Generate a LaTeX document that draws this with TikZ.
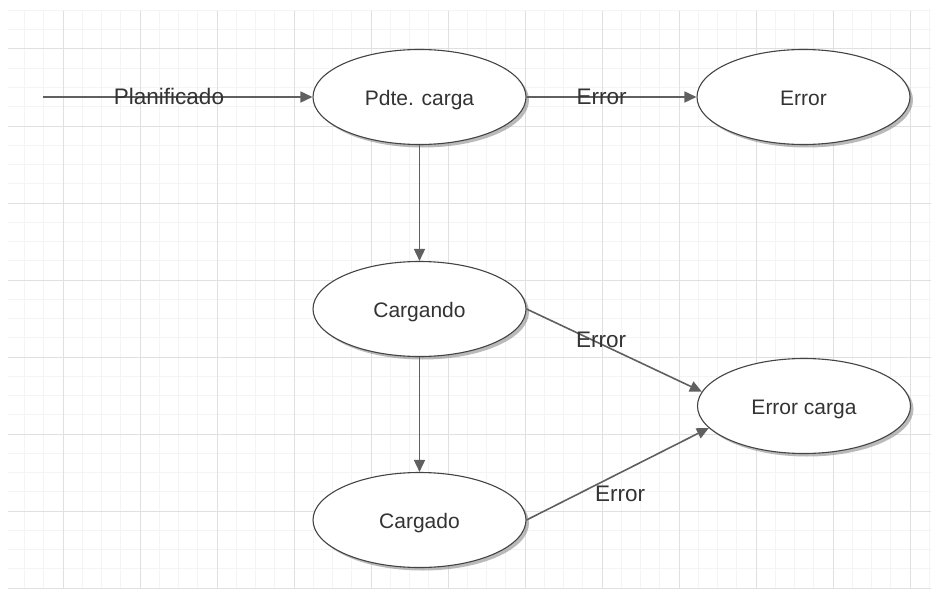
\documentclass[tikz,border=0pt]{standalone}
\usepackage{fontspec}
\setmainfont{Liberation Sans}
\usetikzlibrary{arrows.meta,shapes.geometric,shadows}
\definecolor{gridminor}{HTML}{F4F4F4}
\definecolor{gridmajor}{HTML}{E0E0E0}
\definecolor{edgegray}{HTML}{606060}
\definecolor{textgray}{HTML}{333333}
\definecolor{shapeline}{HTML}{444444}

\begin{document}
\begin{tikzpicture}[x=1pt,y=-1pt,
  state/.style={ellipse, draw=shapeline, line width=1.1pt, fill=white,
    minimum width=213pt, minimum height=95pt, inner sep=0pt,
    text=textgray, font=\fontsize{21}{24}\selectfont,
    text height=17pt, text depth=0pt,
    drop shadow={shadow xshift=3pt, shadow yshift=-3pt, fill=black!45, opacity=0.6}},
  trans/.style={draw=edgegray, line width=1.6pt, -{Triangle[length=12pt,width=11pt]}},
  tlabel/.style={text=textgray, font=\fontsize{22.5}{26}\selectfont, inner sep=0pt, anchor=base}
]
\useasboundingbox (0,0) rectangle (936,591);
\fill[white] (0,0) rectangle (936,591);

% background grid: minor lines every 19.25, major every 77
\begin{scope}
  \clip (8,11) rectangle (931,589);
  \foreach \i in {0,...,48} {
    \pgfmathsetmacro{\gx}{5.25+19.25*\i}
    \draw[gridminor, line width=1pt] (\gx,11) -- (\gx,589);
  }
  \foreach \j in {0,...,30} {
    \pgfmathsetmacro{\gy}{10.5+19.25*\j}
    \draw[gridminor, line width=1pt] (8,\gy) -- (931,\gy);
  }
  \foreach \i in {0,...,11} {
    \pgfmathsetmacro{\gx}{63+77*\i}
    \draw[gridmajor, line width=1pt] (\gx,11) -- (\gx,589);
  }
  \foreach \j in {0,...,7} {
    \pgfmathsetmacro{\gy}{49+77*\j}
    \draw[gridmajor, line width=1pt] (8,\gy) -- (931,\gy);
  }
\end{scope}

% states
\node[state] (pdte)     at (419.5,97) {Pdte. carga};
\node[state] (err)      at (803.5,97) {Error};
\node[state] (cargando) at (419.5,309)  {Cargando};
\node[state] (cargado)  at (419.5,520)  {Cargado};
\node[state] (ecarga)   at (804,406)    {Error carga};

\coordinate (start) at (43,97);

% transitions
\draw[trans] (start) -- (pdte.west);
\draw[trans] (pdte.east) -- (err.west);
\draw[trans] (pdte.south) -- (cargando.north);
\draw[trans] (cargando.south) -- (cargado.north);
\draw[trans] (cargando.east) -- (ecarga.172);
\draw[trans] (cargado.east) -- (ecarga.193);

% transition labels
\node[tlabel] (lplan) at (169,105)   {Planificado};
\node[tlabel] (lerr1) at (601.5,105) {Error};
\node[tlabel] (lerr2) at (601,347)   {Error};
\node[tlabel] (lerr3) at (620,501)   {Error};
\end{tikzpicture}
\end{document}
